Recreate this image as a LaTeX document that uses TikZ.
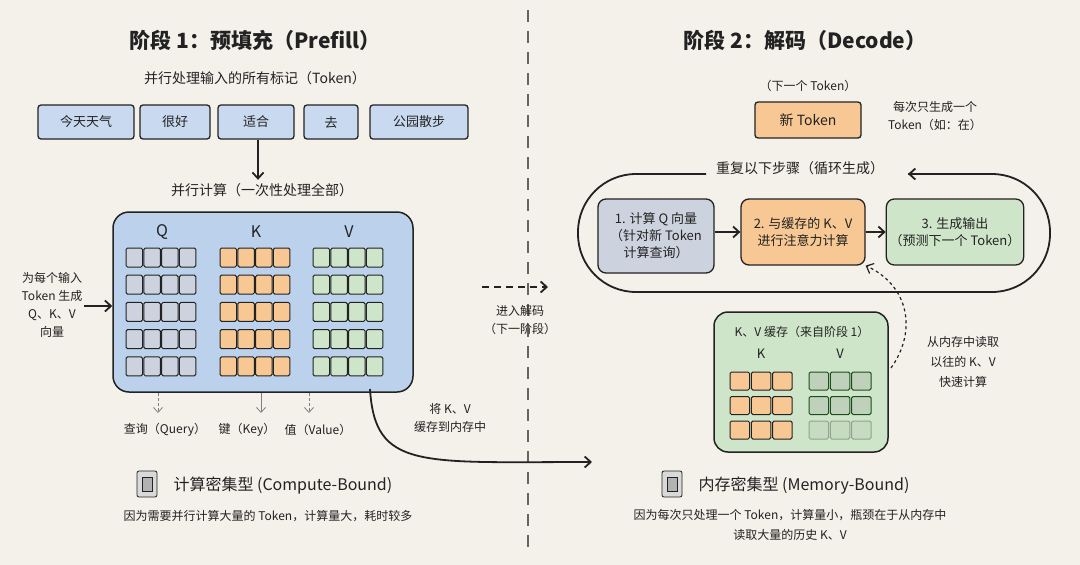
\documentclass[tikz,border=0pt]{standalone}
\usepackage{fontspec}
\setmainfont{Noto Sans CJK SC}
\usetikzlibrary{arrows.meta}
\definecolor{paper}{HTML}{F4F0EA}
\definecolor{tokblue}{HTML}{C9DAF0}
\definecolor{bigblue}{HTML}{BCD2EC}
\definecolor{qgray}{HTML}{CDD3DE}
\definecolor{korange}{HTML}{F7C894}
\definecolor{vgreen}{HTML}{CFE5C9}
\definecolor{inkc}{HTML}{222222}
\tikzset{
  txt/.style={font=\fontsize{13}{17}\selectfont, align=center, text=inkc},
  tok/.style={txt, draw=inkc, line width=1.3, fill=tokblue, rounded corners=3, minimum height=34, inner xsep=8},
  stepbox/.style={txt, draw=inkc, line width=1.3, rounded corners=8, minimum height=66, minimum width=122},
  cell/.style={draw=inkc, rounded corners=1.5, line width=1},
  arr/.style={-{Straight Barb[length=6,width=11]}, line width=1.8, inkc},
}
\begin{document}
\begin{tikzpicture}[x=1pt,y=-1pt]
\fill[paper] (0,0) rectangle (1080,565);
\useasboundingbox (0,0) rectangle (1080,565);

% Divider
\draw[inkc!70, line width=1.2, dash pattern=on 12 off 9] (528,10) -- (528,552);

% Prefill
\node[txt, font=\fontsize{21}{24}\selectfont\bfseries] (t1) at (255,40) {阶段 1：预填充（Prefill）};
\node[txt, font=\fontsize{14}{17}\selectfont] (sub1) at (255,78) {并行处理输入的所有标记（Token）};
\node[tok, minimum width=96] (w1) at (86,122) {今天天气};
\node[tok, minimum width=70] (w2) at (175,122) {很好};
\node[tok, minimum width=76] (w3) at (256,122) {适合};
\node[tok, minimum width=54] (w4) at (331,122) {去};
\node[tok, minimum width=98] (w5) at (419,122) {公园散步};
\node[txt, font=\fontsize{14}{17}\selectfont] (par) at (262,190) {并行计算（一次性处理全部）};
\draw[arr] (w3.south) ++(2,0) coordinate (a0) -- (a0 |- par.north);

\node[draw=inkc, line width=1.5, fill=bigblue, rounded corners=16, minimum width=300, minimum height=180] (big) at (263,302) {};
\node[txt, font=\fontsize{16}{18}\selectfont] (qh) at (162,232) {Q};
\node[txt, font=\fontsize{16}{18}\selectfont] (kh) at (256,232) {K};
\node[txt, font=\fontsize{16}{18}\selectfont] (vh) at (349,232) {V};
\foreach \r in {0,...,4}
  \foreach \c in {0,...,3} {
    \draw[cell, fill=qgray] (126+\c*17.8,248+\r*27.2) rectangle ++(16.5,19);
    \draw[cell, fill=korange] (220+\c*17.8,248+\r*27.2) rectangle ++(16.5,19);
    \draw[cell, fill=vgreen] (313+\c*17.8,248+\r*27.2) rectangle ++(16.5,19);
  }
\node[txt, font=\fontsize{12}{18}\selectfont] (gen) at (52,305) {为每个输入\\Token 生成\\Q、K、V\\向量};
\draw[arr] (gen.east |- big.west) ++(-2,4) coordinate (g0) -- (g0 -| big.west);

\node[txt, font=\fontsize{12}{15}\selectfont] (qry) at (165,430) {查询（Query）};
\node[txt, font=\fontsize{12}{15}\selectfont] (key) at (247,430) {键（Key）};
\node[txt, font=\fontsize{12}{15}\selectfont] (val) at (318,430) {值（Value）};
\draw[-{Straight Barb[length=5,width=9]}, gray, thick, densely dashed] (158,393) -- (158,413);
\draw[-{Straight Barb[length=5,width=9]}, gray, thick] (261,393) -- (261,413);
\draw[-{Straight Barb[length=5,width=9]}, gray, thick, densely dashed] (309,393) -- (309,413);

% Store to memory
\node[txt, font=\fontsize{12}{18}\selectfont] (store) at (450,418) {将 K、V\\缓存到内存中};
\coordinate (c0) at (370,389);
\coordinate (c1) at (592,462);
\draw[arr] (c0) .. controls (375,470) and (420,462) .. (c1);

% To decode
\coordinate (d0) at (482,287);
\coordinate (d1) at (548,287);
\draw[arr, dash pattern=on 7 off 5] (d0) -- (d1);
\node[txt, font=\fontsize{12}{18}\selectfont] (todec) at (520,320) {进入解码\\（下一阶段）};

% Compute-Bound
\node[draw=inkc, fill=gray!30, rounded corners=2, minimum width=20, minimum height=26, thick] (chip1) at (147,484) {};
\node[draw=inkc, fill=gray!60, minimum width=10, minimum height=14] (core1) at (chip1) {};
\node[txt, font=\fontsize{16}{20}\selectfont, anchor=west] (cb) at (170,486) {计算密集型 (Compute-Bound)};
\node[txt, font=\fontsize{12}{15}\selectfont] (cbt) at (268,516) {因为需要并行计算大量的 Token，计算量大，耗时较多};

% Decode
\node[txt, font=\fontsize{21}{24}\selectfont\bfseries] (t2) at (805,40) {阶段 2：解码（Decode）};
\node[txt, font=\fontsize{12}{15}\selectfont] (nxt) at (808,86) {（下一个 Token）};
\node[tok, fill=korange, minimum width=106, minimum height=36, font=\fontsize{14}{17}\selectfont] (new) at (808,120) {新 Token};
\node[txt, font=\fontsize{12}{18}\selectfont] (once) at (935,116) {每次只生成一个\\Token（如：在）};

% Loop
\node[txt, font=\fontsize{14}{17}\selectfont] (rep) at (800,168) {重复以下步骤（循环生成）};
\coordinate (l0) at (706,174);
\coordinate (l1) at (908,174);
\draw[line width=1.8, inkc, rounded corners=58] (l0) -- (578,174) -- (578,292) -- (1050,292) -- (1050,174) -- (l1);
\draw[arr] (930,174) -- (l1);

\node[stepbox, fill=qgray, minimum height=74, minimum width=116] (s1) at (656,236) {1. 计算 Q 向量\\（针对新 Token\\计算查询）};
\node[stepbox, fill=korange, minimum width=124] (s2) at (803,232) {2. 与缓存的 K、V\\进行注意力计算};
\node[stepbox, fill=vgreen, minimum width=125] (s3) at (955,232) {3. 生成输出\\（预测下一个 Token）};
\draw[arr] (s1.east |- s2.west) -- (s2.west);
\draw[arr] (s2) -- (s3);

% Cache
\node[draw=inkc, line width=1.5, fill=vgreen, rounded corners=14, minimum width=174, minimum height=140] (cache) at (801,382) {};
\node[txt, font=\fontsize{12}{15}\selectfont] (ct) at (802,332) {K、V 缓存（来自阶段 1）};
\node[txt, font=\fontsize{13}{15}\selectfont] (ck) at (761,354) {K};
\node[txt, font=\fontsize{13}{15}\selectfont] (cv) at (840,354) {V};
\foreach \r in {0,1,2}
  \foreach \c in {0,1,2} {
    \draw[cell, fill=korange] (730+\c*21.3,372+\r*24.5) rectangle ++(19.5,18);
  }
\foreach \r in {0,1}
  \foreach \c in {0,1,2} {
    \draw[cell, draw=inkc!80!green, fill=vgreen!80!gray] (809+\c*21.3,372+\r*24.5) rectangle ++(19.5,18);
  }
\foreach \c in {0,1,2}
  \draw[cell, draw=inkc!35!vgreen, fill=vgreen!90!gray] (809+\c*21.3,421) rectangle ++(19.5,18);

\coordinate (m0) at (891,368);
\draw[arr, line width=1.2, dashed] (m0) .. controls (918,330) and (908,285) .. (s2.south east);
\node[txt, font=\fontsize{12}{20}\selectfont] (read) at (963,362) {从内存中读取\\以往的 K、V\\快速计算};

% Memory-Bound
\node[draw=inkc, fill=gray!30, rounded corners=2, minimum width=20, minimum height=26, thick] (chip2) at (672,484) {};
\node[draw=inkc, fill=gray!60, minimum width=10, minimum height=14] (core2) at (chip2) {};
\node[txt, font=\fontsize{16}{20}\selectfont, anchor=west] (mb) at (695,486) {内存密集型 (Memory-Bound)};
\node[txt, font=\fontsize{12}{20}\selectfont] (mbt) at (790,525) {因为每次只处理一个 Token，计算量小，瓶颈在于从内存中\\读取大量的历史 K、V};
\end{tikzpicture}
\end{document}
